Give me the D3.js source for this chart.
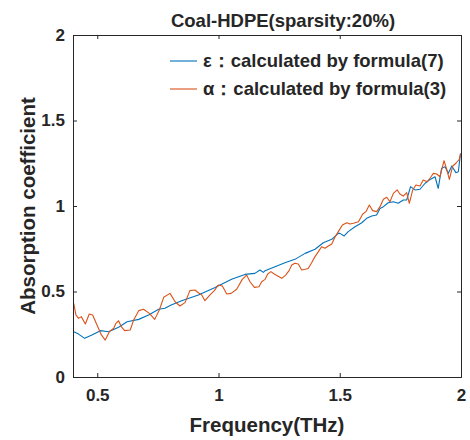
<!DOCTYPE html>
<html>
<head>
<meta charset="utf-8">
<script src="https://cdn.jsdelivr.net/npm/d3@7"></script>
<style>
  body { margin: 0; background: #fff; }
  text { font-family: "Liberation Sans", Arial, sans-serif; font-weight: bold; fill: #262626; }
</style>
</head>
<body>
<div id="chart"></div>
<script>
// eps: calculated by formula(7)  [frequency THz, absorption coefficient]
const epsSeries = [
  [0.403,0.265],[0.423,0.251],[0.448,0.226],[0.478,0.246],[0.513,0.271],[0.547,0.265],
  [0.588,0.291],[0.623,0.323],[0.671,0.337],[0.712,0.363],[0.753,0.396],[0.779,0.402],
  [0.805,0.421],[0.848,0.446],[0.917,0.48],[0.986,0.524],[1.054,0.571],[1.109,0.6],
  [1.15,0.606],[1.171,0.626],[1.185,0.612],[1.192,0.622],[1.233,0.645],[1.274,0.668],
  [1.315,0.688],[1.357,0.723],[1.398,0.747],[1.432,0.785],[1.467,0.805],[1.494,0.84],
  [1.501,0.84],[1.518,0.825],[1.535,0.85],[1.563,0.879],[1.591,0.902],[1.611,0.928],
  [1.632,0.942],[1.652,0.947],[1.666,0.986],[1.68,0.996],[1.7,1.019],[1.721,1.025],
  [1.741,1.016],[1.762,1.035],[1.776,1.035],[1.792,1.113],[1.81,1.094],[1.831,1.098],
  [1.852,1.133],[1.869,1.152],[1.893,1.171],[1.906,1.103],[1.92,1.22],[1.934,1.23],
  [1.948,1.191],[1.962,1.234],[1.979,1.195],[1.989,1.2],[1.998,1.308]
];

// alpha: calculated by formula(3)
const alphaSeries = [
  [0.403,0.431],[0.412,0.363],[0.423,0.343],[0.434,0.353],[0.451,0.31],[0.467,0.368],
  [0.481,0.363],[0.499,0.304],[0.517,0.246],[0.533,0.216],[0.55,0.265],[0.568,0.285],
  [0.577,0.314],[0.588,0.329],[0.599,0.294],[0.613,0.271],[0.636,0.275],[0.65,0.333],
  [0.671,0.388],[0.691,0.396],[0.715,0.372],[0.737,0.337],[0.756,0.392],[0.774,0.466],
  [0.8,0.489],[0.821,0.44],[0.841,0.415],[0.862,0.435],[0.882,0.505],[0.903,0.509],
  [0.917,0.493],[0.931,0.48],[0.944,0.446],[0.965,0.48],[0.983,0.505],[0.999,0.538],
  [1.016,0.532],[1.034,0.485],[1.052,0.489],[1.075,0.513],[1.098,0.571],[1.116,0.596],
  [1.13,0.557],[1.148,0.524],[1.167,0.528],[1.178,0.557],[1.192,0.571],[1.203,0.602],
  [1.216,0.616],[1.23,0.602],[1.244,0.591],[1.261,0.577],[1.277,0.596],[1.291,0.622],
  [1.302,0.655],[1.315,0.665],[1.329,0.661],[1.343,0.626],[1.357,0.63],[1.37,0.635],
  [1.384,0.668],[1.398,0.704],[1.412,0.733],[1.425,0.762],[1.439,0.753],[1.453,0.766],
  [1.467,0.778],[1.48,0.817],[1.494,0.85],[1.511,0.889],[1.529,0.902],[1.542,0.895],
  [1.556,0.899],[1.577,0.908],[1.595,0.953],[1.608,0.967],[1.622,1.006],[1.636,0.973],
  [1.652,0.967],[1.666,0.996],[1.68,1.039],[1.694,1.051],[1.707,1.025],[1.721,1.074],
  [1.737,1.094],[1.748,1.07],[1.762,1.058],[1.776,1.078],[1.787,1.016],[1.801,1.094],
  [1.814,1.123],[1.831,1.117],[1.844,1.152],[1.861,1.142],[1.875,1.168],[1.886,1.191],
  [1.9,1.187],[1.913,1.171],[1.93,1.265],[1.941,1.215],[1.952,1.156],[1.966,1.234],
  [1.979,1.25],[1.993,1.273],[1.998,1.304]
];

const xTicks = [0.5, 1, 1.5, 2];
const yTicks = [0, 0.5, 1, 1.5, 2];
const legendLabels = ["ε：calculated by formula(7)", "α：calculated by formula(3)"];
const colors = ["#0072BD", "#D95319"];

const width = 470, height = 440;
const margin = {top: 35, right: 9, bottom: 63, left: 73};
const innerW = width - margin.left - margin.right;
const innerH = height - margin.top - margin.bottom;

const svg = d3.select("#chart").append("svg")
  .attr("width", width).attr("height", height);

const g = svg.append("g").attr("transform", `translate(${margin.left},${margin.top})`);

const x = d3.scaleLinear().domain([0.4, 2]).range([0, innerW]);
const y = d3.scaleLinear().domain([0, 2]).range([innerH, 0]);

g.append("defs").append("clipPath").attr("id", "clip")
  .append("rect").attr("width", innerW).attr("height", innerH);

const line = d3.line().x(d => x(d[0])).y(d => y(d[1]));

const lines = g.append("g").attr("clip-path", "url(#clip)");
[epsSeries, alphaSeries].forEach((s, i) => {
  lines.append("path").datum(s)
    .attr("d", line).attr("fill", "none")
    .attr("stroke", colors[i]).attr("stroke-width", 1.1)
    .attr("stroke-linejoin", "round");
});

// axes, ticks inward on all four sides
const fmt = d => d3.format("")(d);
const axStyle = sel => {
  sel.select(".domain").attr("stroke", "#262626");
  sel.selectAll(".tick line").attr("stroke", "#262626");
  sel.selectAll("text").style("font-size", "17px").attr("fill", "#262626");
};
g.append("g").attr("transform", `translate(0,${innerH})`)
  .call(d3.axisBottom(x).tickValues(xTicks).tickSize(-4).tickPadding(12).tickFormat(fmt))
  .call(axStyle);
g.append("g")
  .call(d3.axisLeft(y).tickValues(yTicks).tickSize(-4).tickPadding(8).tickFormat(fmt))
  .call(axStyle);
g.append("g")
  .call(d3.axisTop(x).tickValues(xTicks).tickSize(-4).tickFormat(""))
  .call(axStyle);
g.append("g").attr("transform", `translate(${innerW},0)`)
  .call(d3.axisRight(y).tickValues(yTicks).tickSize(-4).tickFormat(""))
  .call(axStyle);

// title and axis labels
svg.append("text").attr("x", 283).attr("y", 27)
  .attr("text-anchor", "middle").style("font-size", "18.5px")
  .text("Coal-HDPE(sparsity:20%)");
svg.append("text").attr("x", margin.left + innerW / 2).attr("y", 432)
  .attr("text-anchor", "middle").style("font-size", "20.5px")
  .text("Frequency(THz)");
svg.append("text").attr("transform", `translate(35,${margin.top + innerH / 2}) rotate(-90)`)
  .attr("text-anchor", "middle").style("font-size", "20.5px")
  .text("Absorption coefficient");

// legend
const legend = g.append("g").attr("transform", "translate(97,26)");
legendLabels.forEach((lab, i) => {
  const row = legend.append("g").attr("transform", `translate(0,${i * 28})`);
  row.append("line").attr("x1", 0).attr("x2", 27)
    .attr("stroke", colors[i]).attr("stroke-width", 1.1);
  row.append("text").attr("x", 33).attr("y", 6)
    .style("font-size", "18.5px").text(lab);
});
</script>
</body>
</html>
